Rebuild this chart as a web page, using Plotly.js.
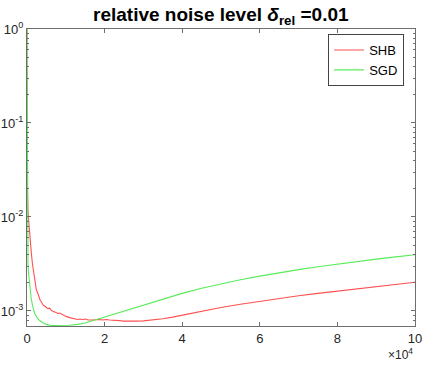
<!DOCTYPE html>
<html>
<head>
<meta charset="utf-8">
<script src="https://cdn.plot.ly/plotly-3.0.1.min.js"></script>
<style>
  html, body { margin: 0; padding: 0; background: #fff; }
  #graph { width: 423px; height: 365px; }
</style>
</head>
<body>
<div id="graph"></div>
<script>
// iterations and relative error
var shbIters = [0, 20, 50, 100, 260, 500, 700, 900, 1130, 1390, 1700, 1980, 2200, 2420, 2640, 2840, 3100, 3400,
  3750, 4120, 4500, 5000, 5400, 5850, 6300, 6700, 7100, 7500, 8000, 8430, 9000, 9500, 10200, 11000, 11700,
  12300, 13000, 13600, 14300, 15000, 15800, 17000, 17800, 18500, 19500, 20500, 21300, 22000, 23000, 23900,
  24700, 25500, 26400, 27300, 28200, 30000, 32500, 35000, 37500, 40000, 42500, 45000, 50000, 55000,
  60000, 65000, 70000, 75000, 80000, 85000, 90000, 95000, 100000];
var shbErr = [1.0, 0.1, 0.035, 0.021, 0.0112, 0.0079, 0.0060, 0.0050, 0.0041, 0.0032, 0.0026, 0.0021, 0.00185, 0.00167,
  0.00160, 0.00150, 0.00140, 0.00130, 0.00124, 0.00116, 0.00113, 0.00110, 0.00106, 0.00107, 0.00101, 0.00099,
  0.00098, 0.00097, 0.00094, 0.00095, 0.00092, 0.00089, 0.00087, 0.00085, 0.00084, 0.00083, 0.00081, 0.00082,
  0.00081, 0.00082, 0.00080, 0.00080, 0.00081, 0.00081, 0.00080, 0.00081, 0.00080, 0.00080, 0.00079, 0.00079,
  0.00078, 0.00078, 0.00077, 0.00077, 0.00078, 0.000785, 0.00080, 0.000825, 0.00086, 0.000905, 0.00095, 0.00100,
  0.00109, 0.00118, 0.00127, 0.00136, 0.00145, 0.00154, 0.001625, 0.00172, 0.001815, 0.001915, 0.00202];

var sgdIters = [0, 30, 80, 150, 260, 400, 550, 800, 1130, 1500, 1980, 2600, 3270, 4100, 5000, 6300, 8000, 9500,
  11000, 13000, 15000, 17500, 20000, 22500, 25000, 27500, 30000, 35000, 40000, 45000, 50000,
  55000, 60000, 65000, 70000, 75000, 80000, 85000, 90000, 95000, 100000];
var sgdErr = [1.0, 0.1, 0.02, 0.007, 0.0032, 0.0025, 0.0021, 0.00165, 0.00131, 0.00111, 0.00094, 0.00085, 0.00079,
  0.00075, 0.00072, 0.00070, 0.00070, 0.00070, 0.000705, 0.00072, 0.000745, 0.00080, 0.00086, 0.00093, 0.00100,
  0.00108, 0.00116, 0.00134, 0.001538, 0.001742, 0.001945, 0.002148, 0.00235, 0.002553, 0.002754, 0.002958,
  0.003162, 0.003365, 0.003565, 0.003767, 0.003963];

var xTicks = [0, 20000, 40000, 60000, 80000, 100000];
var xTickText = ['0', '2', '4', '6', '8', '10'];
var yTicks = [1, 0.1, 0.01, 0.001];
var yTickText = ['10<sup>0</sup>', '10<sup>-1</sup>', '10<sup>-2</sup>', '10<sup>-3</sup>'];

// minor ticks 2..9 in each decade
var yMinor = [];
[0.0001, 0.001, 0.01, 0.1].forEach(function(d) {
  for (var k = 2; k <= 9; k++) yMinor.push(k * d);
});

var axisColor = '#6e6e6e';
var font = {family: 'Liberation Sans, Arial, sans-serif', size: 13, color: '#262626'};

var data = [{
  x: shbIters, y: shbErr, name: 'SHB', mode: 'lines',
  line: {color: 'rgb(255,80,80)', width: 1.1}
}, {
  x: sgdIters, y: sgdErr, name: 'SGD', mode: 'lines',
  line: {color: 'rgb(90,235,90)', width: 1.1}
}];

var layout = {
  width: 423, height: 365,
  margin: {l: 27, r: 8, t: 29, b: 39},
  paper_bgcolor: '#fff', plot_bgcolor: '#fff',
  font: font,
  showlegend: true,
  title: {
    text: '<b>relative noise level <i>δ</i><sub>rel</sub> =0.01</b>',
    font: {family: 'Liberation Sans, Arial, sans-serif', size: 19, color: '#000'},
    x: 0.522, xanchor: 'center', y: 0.962, yanchor: 'middle'
  },
  xaxis: {
    range: [0, 100000], showgrid: false, zeroline: false,
    showline: true, linecolor: axisColor, linewidth: 1, mirror: 'ticks',
    ticks: 'inside', ticklen: 4, tickcolor: axisColor,
    tickvals: xTicks, ticktext: xTickText, tickfont: font
  },
  yaxis: {
    type: 'log', range: [-3.16, 0], showgrid: false, zeroline: false,
    showline: true, linecolor: axisColor, linewidth: 1, mirror: 'ticks',
    ticks: 'inside', ticklen: 4, tickcolor: axisColor,
    tickvals: yTicks, ticktext: yTickText, tickfont: font,
    minor: {tickvals: yMinor, ticks: 'inside', ticklen: 2, tickcolor: axisColor}
  },
  legend: {
    x: 0.972, y: 0.983, xanchor: 'right', yanchor: 'top',
    bgcolor: '#fff', bordercolor: '#444', borderwidth: 1,
    font: {family: 'Liberation Sans, Arial, sans-serif', size: 13, color: '#000'},
    tracegroupgap: 0
  },
  annotations: [{
    xref: 'paper', yref: 'paper', x: 1.0, y: -0.062,
    xanchor: 'right', yanchor: 'top', showarrow: false,
    text: '×10<sup>4</sup>',
    font: {family: 'Liberation Sans, Arial, sans-serif', size: 12, color: '#262626'}
  }]
};

Plotly.newPlot('graph', data, layout, {displayModeBar: false, staticPlot: true});
</script>
</body>
</html>
